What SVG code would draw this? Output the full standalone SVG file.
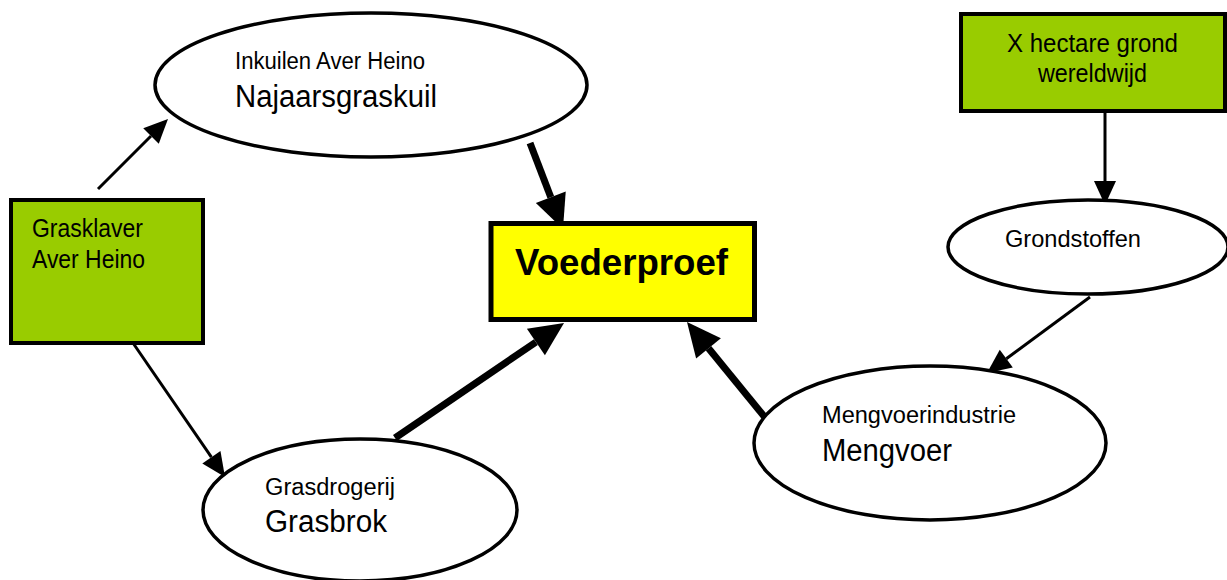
<svg xmlns="http://www.w3.org/2000/svg" width="1227" height="580" viewBox="0 0 1227 580">
<style>
.box{stroke:#000;stroke-width:4}
.green{fill:#99CC00}
.ell{fill:#fff;stroke:#000;stroke-width:3.5}
.t{font-family:"Liberation Sans",Arial,sans-serif;fill:#000}
.s{font-size:23px}
.l{font-size:31px}
.m{font-size:25px}
.thin{stroke:#000;stroke-width:3;fill:none}
.thick{stroke:#000;stroke-width:7;fill:none}
</style>
<defs>
<marker id="ht" markerUnits="userSpaceOnUse" markerWidth="30" markerHeight="30" refX="0" refY="0" orient="auto" overflow="visible">
<path d="M0,-11 L24,0 L0,11 Z" fill="#000"/>
</marker>
<marker id="hT" markerUnits="userSpaceOnUse" markerWidth="40" markerHeight="40" refX="0" refY="0" orient="auto" overflow="visible">
<path d="M0,-16 L34,0 L0,16 Z" fill="#000"/>
</marker>
</defs>
<g id="connectors">
<line class="thin" x1="98" y1="189" x2="151" y2="136" marker-end="url(#ht)"/>
<line class="thin" x1="133" y1="343" x2="211.4" y2="457.2" marker-end="url(#ht)"/>
<line class="thick" x1="530" y1="143" x2="550.8" y2="197.2" marker-end="url(#hT)"/>
<line class="thick" x1="395" y1="438" x2="535.9" y2="342.1" marker-end="url(#hT)"/>
<line class="thick" x1="767" y1="420" x2="708.5" y2="348.3" marker-end="url(#hT)"/>
<line class="thin" x1="1105" y1="112" x2="1105" y2="181" marker-end="url(#ht)"/>
<line class="thin" x1="1090" y1="297" x2="1006.3" y2="358.7" marker-end="url(#ht)"/>
</g>
<g id="najaarsgraskuil">
<ellipse class="ell" cx="371" cy="85" rx="216" ry="72"/>
<text class="t s" x="235" y="69" textLength="190" lengthAdjust="spacingAndGlyphs">Inkuilen Aver Heino</text>
<text class="t l" x="235" y="107" textLength="202" lengthAdjust="spacingAndGlyphs">Najaarsgraskuil</text>
</g>
<g id="grasklaver">
<rect class="box green" x="11" y="200" width="192" height="143"/>
<text class="t m" x="32" y="237" textLength="111" lengthAdjust="spacingAndGlyphs">Grasklaver</text>
<text class="t m" x="32" y="268" textLength="113" lengthAdjust="spacingAndGlyphs">Aver Heino</text>
</g>
<g id="voederproef">
<rect x="491" y="223.5" width="263.5" height="96" fill="#FFFF00" stroke="#000" stroke-width="5"/>
<text class="t" x="515" y="275" font-size="36" font-weight="bold" textLength="213" lengthAdjust="spacingAndGlyphs">Voederproef</text>
</g>
<g id="grasbrok">
<ellipse class="ell" cx="360" cy="510" rx="157" ry="71"/>
<text class="t s" x="265" y="495" textLength="130" lengthAdjust="spacingAndGlyphs">Grasdrogerij</text>
<text class="t l" x="265" y="532" textLength="122" lengthAdjust="spacingAndGlyphs">Grasbrok</text>
</g>
<g id="hectare">
<rect class="box green" x="961" y="14" width="264" height="97"/>
<text class="t m" x="1007" y="52" textLength="171" lengthAdjust="spacingAndGlyphs">X hectare grond</text>
<text class="t m" x="1038" y="82" textLength="109" lengthAdjust="spacingAndGlyphs">wereldwijd</text>
</g>
<g id="grondstoffen">
<ellipse class="ell" cx="1088" cy="247" rx="140" ry="47"/>
<text class="t" x="1005" y="247" font-size="24" textLength="136" lengthAdjust="spacingAndGlyphs">Grondstoffen</text>
</g>
<g id="mengvoer">
<ellipse class="ell" cx="930" cy="443" rx="176" ry="77"/>
<text class="t s" x="822" y="423" textLength="194" lengthAdjust="spacingAndGlyphs">Mengvoerindustrie</text>
<text class="t l" x="822" y="461" textLength="130" lengthAdjust="spacingAndGlyphs">Mengvoer</text>
</g>
</svg>
